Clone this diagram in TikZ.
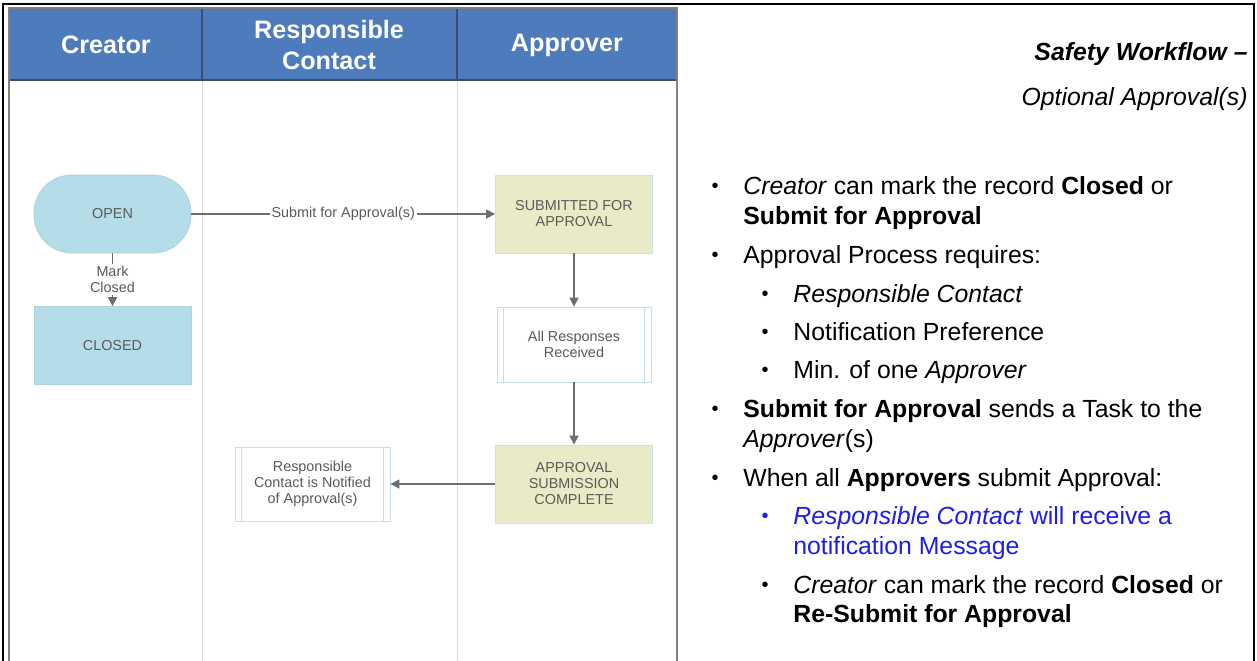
\documentclass[tikz,border=0pt]{standalone}
\usepackage{fontspec}
\setmainfont{Liberation Sans}
\usetikzlibrary{
  arrows.meta,
  positioning,
  calc
}
\definecolor{wfHead}{HTML}{4E7BBB}
\definecolor{wfHeadLine}{HTML}{3A4F6E}
\definecolor{wfLane}{HTML}{DCDCDC}
\definecolor{wfOpen}{HTML}{B5DDE8}
\definecolor{wfTask}{HTML}{E9EBC6}
\definecolor{wfTaskLine}{HTML}{CDE2E2}
\definecolor{wfProc}{HTML}{C8DDF0}
\definecolor{wfArrow}{HTML}{6E6E6E}
\definecolor{wfText}{HTML}{5A5A5A}
\definecolor{wfBlue}{HTML}{1E1EE8}

\tikzset{
  lanehead/.style={text=white, align=center, font=\fontsize{12.6}{15.5}\selectfont\bfseries},
  stepshape/.style={minimum width=78.5pt, minimum height=39pt, inner sep=0pt, align=center,
    text=wfText, font=\fontsize{7.2}{8}\selectfont},
  statebox/.style={stepshape, fill=wfOpen, draw=wfOpen!95!black},
  taskbox/.style={stepshape, fill=wfTask, draw=wfTaskLine},
  procbox/.style={stepshape, fill=white, draw=wfProc},
  flow/.style={draw=wfArrow, line width=0.8pt, -{Triangle[length=4.5pt, width=4.5pt]}},
  flowlabel/.style={fill=white, inner sep=1pt, align=center, text=wfText, font=\fontsize{7.2}{8}\selectfont},
  bodytext/.style={anchor=base west, inner sep=0pt, font=\fontsize{12.4}{15}\selectfont},
  dot/.style={anchor=base, inner sep=0pt, font=\fontsize{10}{12}\selectfont}
}

\begin{document}
\begin{tikzpicture}[x=0.5pt, y=-0.5pt]
  \useasboundingbox (0,0) rectangle (1257,660);
  \fill[white] (0,0) rectangle (1257,660);

  % swimlanes
  \draw[wfLane] (202,80) -- (202,670);
  \draw[wfLane] (457,80) -- (457,670);
  \draw[fill=wfHead, draw=wfHeadLine] (9,8) rectangle (677,80);
  \draw[wfHeadLine, line width=1pt] (202,8) -- (202,80);
  \draw[wfHeadLine, line width=1pt] (457,8) -- (457,80);
  \draw[wfHeadLine, line width=1pt] (9,80) -- (677,80);
  \draw[gray, line width=0.8pt] (9,8) rectangle (677,670);
  \draw[black, line width=1pt] (3,670) -- (3,4) -- (1254,4) -- (1254,670);

  \node[lanehead] (hcreator) at (106,45) {Creator};
  \node[lanehead] (hcontact) at (329,45) {Responsible\\Contact};
  \node[lanehead] (happrover) at (567,45) {Approver};

  % steps
  \node[statebox, rounded corners=19pt] (open) at (112.5,214) {OPEN};
  \node[statebox] (closed) at (112.5,345.5) {CLOSED};
  \node[taskbox] (submitted) at (574,214) {SUBMITTED FOR\\APPROVAL};
  \node[procbox, minimum width=77pt, minimum height=37.5pt] (allresp) at (574,344.5) {All Responses\\Received};
  \node[taskbox] (complete) at (574,484) {APPROVAL\\SUBMISSION\\COMPLETE};
  \node[procbox, minimum width=77.5pt, minimum height=37pt] (notified) at (312.5,484) {Responsible\\Contact is Notified\\of Approval(s)};
  \draw[wfProc] ([xshift=3.5pt]allresp.north west) -- ([xshift=3.5pt]allresp.south west);
  \draw[wfProc] ([xshift=-3.5pt]allresp.north east) -- ([xshift=-3.5pt]allresp.south east);
  \draw[wfProc] ([xshift=3.5pt]notified.north west) -- ([xshift=3.5pt]notified.south west);
  \draw[wfProc] ([xshift=-3.5pt]notified.north east) -- ([xshift=-3.5pt]notified.south east);

  % connectors
  \draw[flow] (open) -- node[flowlabel]{Submit for Approval(s)} (submitted);
  \draw[flow] (open) -- node[flowlabel]{Mark\\Closed} (closed);
  \draw[flow] (submitted) -- (allresp);
  \draw[flow] (allresp) -- (complete);
  \draw[flow] (complete) -- (notified);

  % notes
  \node[anchor=base east, inner sep=0pt, font=\fontsize{12.4}{15}\selectfont\bfseries\itshape] (title) at (1248,60) {Safety Workflow --};
  \node[anchor=base east, inner sep=0pt, font=\fontsize{12.4}{15}\selectfont\itshape] (subtitle) at (1248,105) {Optional Approval(s)};

  \foreach \y in {194,263,417,486} \node[dot] (b\y) at (715,\y-2) {•};
  \foreach \y in {302,340,378,593} \node[dot] (s\y) at (765,\y-2) {•};
  \node[dot, text=wfBlue] (s524) at (765,522) {•};

  \node[bodytext] (l1) at (743,194) {\textit{Creator} can mark the record \textbf{Closed} or};
  \node[bodytext] (l2) at (743,224) {\textbf{Submit for Approval}};
  \node[bodytext] (l3) at (743,263) {Approval Process requires:};
  \node[bodytext] (l4) at (793,302) {\textit{Responsible Contact}};
  \node[bodytext] (l5) at (793,340) {Notification Preference};
  \node[bodytext] (l6) at (793,378) {Min. of one \textit{Approver}};
  \node[bodytext] (l7) at (743,417) {\textbf{Submit for Approval} sends a Task to the};
  \node[bodytext] (l8) at (743,447) {\textit{Approver}(s)};
  \node[bodytext] (l9) at (743,486) {When all \textbf{Approvers} submit Approval:};
  \node[bodytext, text=wfBlue] (l10) at (793,524) {\textit{Responsible Contact} will receive a};
  \node[bodytext, text=wfBlue] (l11) at (793,554) {notification Message};
  \node[bodytext] (l12) at (793,593) {\textit{Creator} can mark the record \textbf{Closed} or};
  \node[bodytext] (l13) at (793,622) {\textbf{Re-Submit for Approval}};
\end{tikzpicture}
\end{document}
